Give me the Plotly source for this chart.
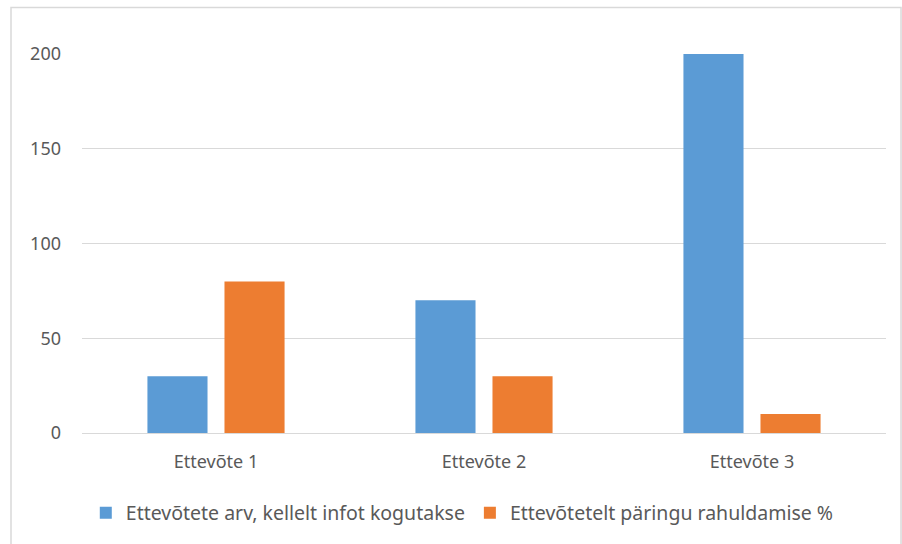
import plotly.graph_objects as go

categories = ["Ettevõte 1", "Ettevõte 2", "Ettevõte 3"]
series1_name = "Ettevõtete arv, kellelt infot kogutakse"
series1 = [30, 70, 200]
series2_name = "Ettevõtetelt päringu rahuldamise %"
series2 = [80, 30, 10]
y_ticks = [0, 50, 100, 150, 200]

FONT = "Noto Sans"
TXT = "#595959"
FS = 18

fig = go.Figure()
fig.add_trace(go.Bar(x=categories, y=series1, name=series1_name, marker=dict(color="#5B9BD5", line=dict(width=0))))
fig.add_trace(go.Bar(x=categories, y=series2, name=series2_name, marker=dict(color="#ED7D31", line=dict(width=0))))

fig.update_layout(
    width=902, height=544,
    margin=dict(l=82, r=16, t=54, b=111, autoexpand=False),
    paper_bgcolor="white", plot_bgcolor="white",
    barmode="group", bargap=0.425, bargroupgap=0.22,
    font=dict(family=FONT, size=FS, color=TXT),
    showlegend=True,
    legend=dict(orientation="h", x=0.473, xanchor="center", y=-0.211, yanchor="middle",
                font=dict(family=FONT, size=19.5, color=TXT), itemsizing="constant",
                traceorder="normal", itemwidth=30),
    xaxis=dict(showgrid=False, showline=False, ticks="", tickfont=dict(size=FS, color=TXT),
               ticklabelstandoff=16),
    yaxis=dict(range=[0, 200], tickvals=y_ticks, showgrid=True, gridcolor="#D9D9D9", gridwidth=1,
               zeroline=True, zerolinecolor="#D9D9D9", zerolinewidth=1, showline=False, ticks="",
               tickfont=dict(size=FS, color=TXT), ticklabelstandoff=20),
    shapes=[dict(type="rect", xref="paper", yref="paper", x0=-0.0883, x1=1.0187, y0=-0.35, y1=1.1227,
                 line=dict(color="#D9D9D9", width=1.5), fillcolor="rgba(0,0,0,0)", layer="below")],
)

fig.write_html("out.html")
